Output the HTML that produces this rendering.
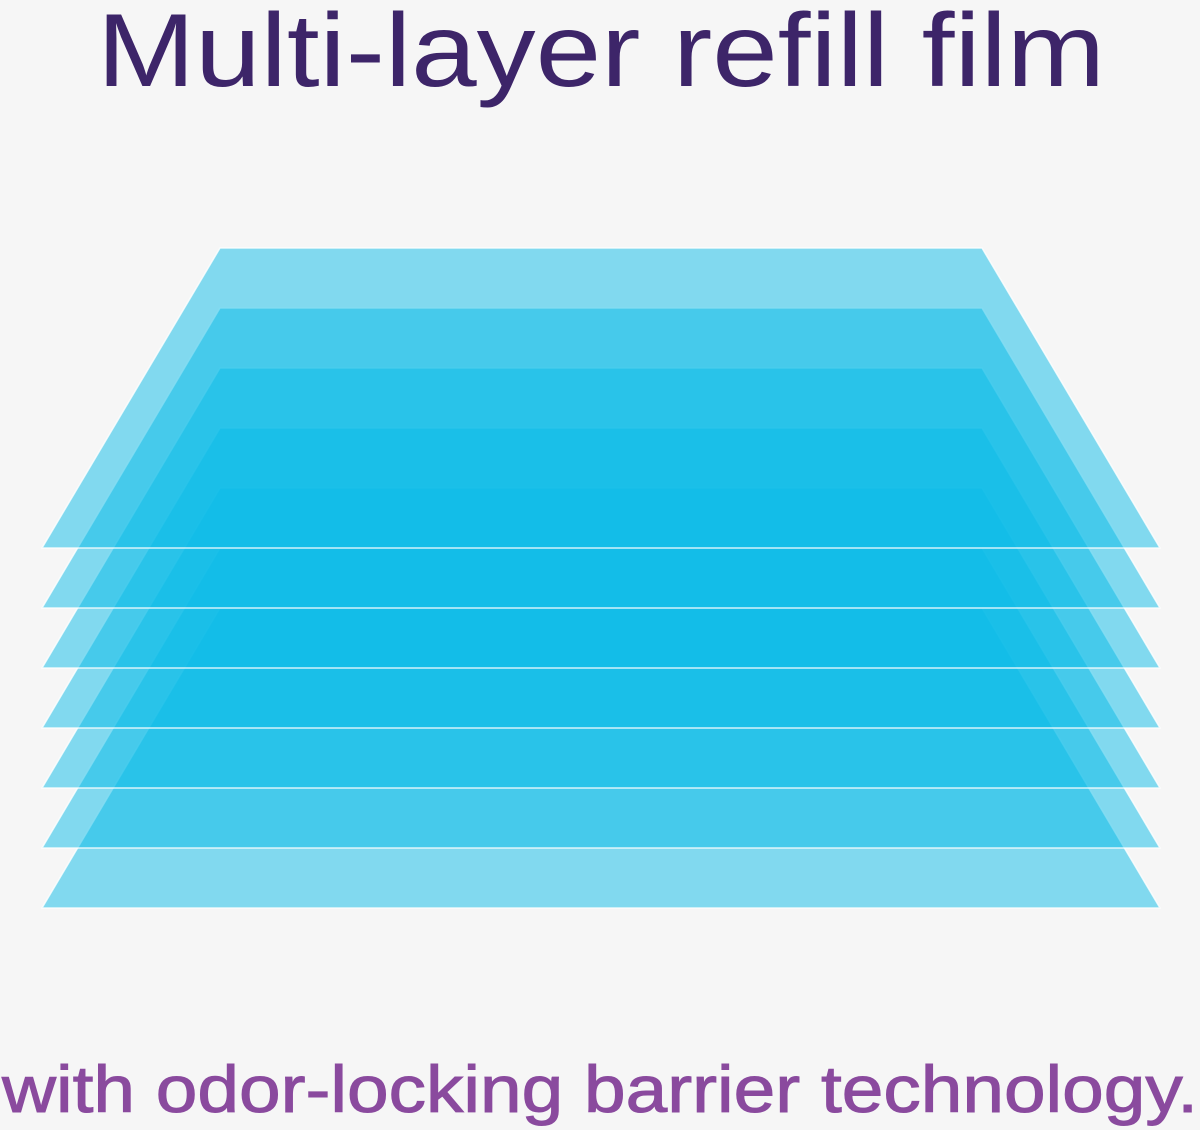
<!DOCTYPE html>
<html><head><meta charset="utf-8"><style>
html,body{margin:0;padding:0;background:#f6f6f6;}
svg{display:block;}
</style></head><body>
<svg width="1200" height="1130" viewBox="0 0 1200 1130" xmlns="http://www.w3.org/2000/svg">
<rect width="1200" height="1130" fill="#f6f6f6"/>
<text x="97" y="86" font-family="Liberation Sans, sans-serif" font-size="104" fill="#3d2569" textLength="1008" lengthAdjust="spacingAndGlyphs">Multi-layer refill film</text>
<g fill="#0bbbe8" fill-opacity="0.5" stroke="#ffffff" stroke-opacity="0.8" stroke-width="1.5">
<polygon points="220,608 982,608 1160,908 42,908"/>
<polygon points="220,548 982,548 1160,848 42,848"/>
<polygon points="220,488 982,488 1160,788 42,788"/>
<polygon points="220,428 982,428 1160,728 42,728"/>
<polygon points="220,368 982,368 1160,668 42,668"/>
<polygon points="220,308 982,308 1160,608 42,608"/>
<polygon points="220,248 982,248 1160,548 42,548"/>
</g>
<text x="2" y="1112" font-family="Liberation Sans, sans-serif" font-size="66" fill="#8a4a9e" stroke="#8a4a9e" stroke-width="1" textLength="1196" lengthAdjust="spacingAndGlyphs">with odor-locking barrier technology.</text>
</svg>
</body></html>
